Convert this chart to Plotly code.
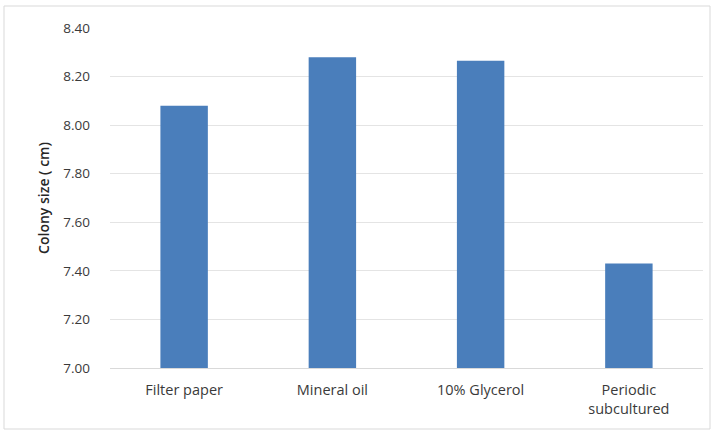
import plotly.graph_objects as go

# Colony size by storage method
methods = ["Filter paper", "Mineral oil", "10% Glycerol", "Periodic<br>subcultured"]
colony_size = [8.08, 8.28, 8.265, 7.43]
y_ticks = [7.00, 7.20, 7.40, 7.60, 7.80, 8.00, 8.20, 8.40]
y_tick_labels = [f"{v:.2f}" for v in y_ticks]

W, H = 714, 433
ML, MR, MT, MB = 110, 11, 28, 65

fig = go.Figure(
    go.Bar(
        x=methods,
        y=colony_size,
        base=0,
        marker=dict(color="#4a7ebb", line=dict(width=0)),
        hoverinfo="x+y",
    )
)

font_family = "Open Sans, Lato, Liberation Sans, sans-serif"

pw = W - ML - MR
ph = H - MT - MB

fig.update_layout(
    width=W,
    height=H,
    margin=dict(l=ML, r=MR, t=MT, b=MB),
    paper_bgcolor="white",
    plot_bgcolor="white",
    bargap=0.68,
    showlegend=False,
    font=dict(family=font_family, size=13, color="#404040"),
    xaxis=dict(
        showgrid=False,
        showline=True,
        linecolor="#d9d9d9",
        linewidth=1,
        ticks="",
        ticklabelstandoff=9,
        tickfont=dict(size=14.5, color="#3a3a3a"),
    ),
    yaxis=dict(
        range=[7.0, 8.40],
        tickvals=y_ticks,
        ticktext=y_tick_labels,
        showgrid=True,
        gridcolor="#e4e4e4",
        gridwidth=1,
        zeroline=False,
        showline=False,
        ticks="",
        ticklabelstandoff=19,
        tickfont=dict(size=13.5, color="#3a3a3a"),
        title=dict(
            text="Colony size ( cm)",
            font=dict(size=14, color="#262626", weight=600),
            standoff=10,
        ),
    ),
    shapes=[
        dict(
            type="rect",
            xref="paper",
            yref="paper",
            x0=(4 - ML) / pw,
            x1=(W - 4 - ML) / pw,
            y0=-(H - 4 - MT - ph) / ph,
            y1=1 + (MT - 6) / ph,
            line=dict(color="#d9d9d9", width=1),
            fillcolor="rgba(0,0,0,0)",
            layer="below",
        )
    ],
)

fig.write_html("out.html")
